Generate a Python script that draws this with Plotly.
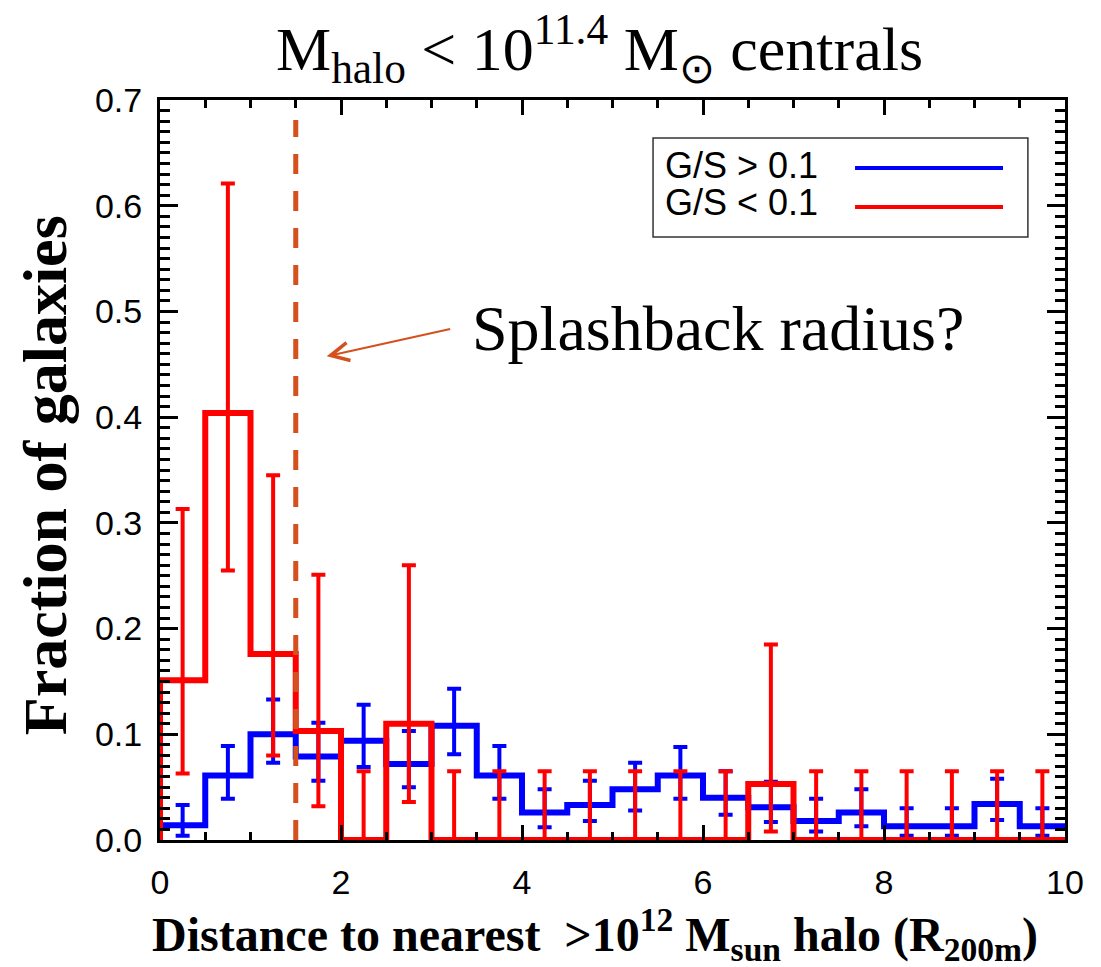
import plotly.graph_objects as go

# ---- data ----
bin_edges = [i * 0.5 for i in range(21)]
bin_centers = [0.25 + i * 0.5 for i in range(20)]

blue_frac = [0.014, 0.061, 0.100, 0.079, 0.094, 0.072, 0.108, 0.061, 0.026, 0.033,
             0.048, 0.061, 0.040, 0.031, 0.018, 0.026, 0.013, 0.013, 0.034, 0.013]
blue_lo = [0.004, 0.039, 0.073, 0.056, 0.069, 0.050, 0.081, 0.039, 0.012, 0.018,
           0.028, 0.039, 0.024, 0.017, 0.008, 0.013, 0.004, 0.004, 0.019, 0.004]
blue_hi = [0.033, 0.089, 0.133, 0.111, 0.128, 0.103, 0.143, 0.089, 0.048, 0.056,
           0.073, 0.088, 0.065, 0.055, 0.039, 0.048, 0.030, 0.030, 0.058, 0.030]

red_frac = [0.151, 0.404, 0.176, 0.103, 0.0, 0.110, 0.0, 0.0, 0.0, 0.0,
            0.0, 0.0, 0.0, 0.053, 0.0, 0.0, 0.0, 0.0, 0.0, 0.0]
red_lo = [0.063, 0.255, 0.080, 0.032, 0.0, 0.036, 0.0, 0.0, 0.0, 0.0,
          0.0, 0.0, 0.0, 0.008, 0.0, 0.0, 0.0, 0.0, 0.0, 0.0]
red_hi = [0.313, 0.621, 0.345, 0.251, 0.065, 0.260, 0.065, 0.065, 0.065, 0.065,
          0.065, 0.065, 0.065, 0.185, 0.065, 0.065, 0.065, 0.065, 0.065, 0.065]

series_names = ["G/S > 0.1", "G/S < 0.1"]
x_ticks = [0, 2, 4, 6, 8, 10]
y_ticks = [0.0, 0.1, 0.2, 0.3, 0.4, 0.5, 0.6, 0.7]
splashback_x = 1.5

BLUE = "#0000ff"
RED = "#ff0000"
ORANGE = "#d4501c"
SERIF = "Liberation Serif"
SANS = "Liberation Sans"


def step_xy(vals):
    xs = [bin_edges[0]] + list(bin_edges)
    ys = [0.0] + list(vals) + [vals[-1]]
    return xs, ys


fig = go.Figure()

for vals, lo, hi, col in [(blue_frac, blue_lo, blue_hi, BLUE), (red_frac, red_lo, red_hi, RED)]:
    xs, ys = step_xy(vals)
    fig.add_trace(go.Scatter(x=xs, y=ys, mode="lines", line=dict(color=col, width=6, shape="hv"),
                             showlegend=False, hoverinfo="skip", cliponaxis=True))
    fig.add_trace(go.Scatter(
        x=bin_centers, y=vals, mode="markers",
        marker=dict(size=1, color="rgba(0,0,0,0)"),
        error_y=dict(type="data", symmetric=False,
                     array=[h - v for h, v in zip(hi, vals)],
                     arrayminus=[v - l for v, l in zip(vals, lo)],
                     color=col, thickness=4, width=7),
        showlegend=False, hoverinfo="skip"))

# vertical dashed line (splashback)
fig.add_shape(type="line", xref="x", yref="y", x0=splashback_x, x1=splashback_x, y0=0, y1=0.681,
              line=dict(color=ORANGE, width=5, dash="20px,17px"), layer="above")

# arrow + text
fig.add_annotation(x=1.842, y=0.4575, ax=3.223, ay=0.4837, axref="x", ayref="y", xref="x", yref="y",
                   text="", showarrow=True, arrowhead=5, arrowsize=1.8, arrowwidth=2,
                   arrowcolor=ORANGE, standoff=0)
fig.add_annotation(x=3.43, y=0.484, xref="x", yref="y", text="Splashback radius?",
                   showarrow=False, xanchor="left", yanchor="middle",
                   font=dict(family=SERIF, size=64, color="black"))

# legend box
fig.add_shape(type="rect", xref="paper", yref="paper", x0=0.5448, x1=0.959, y0=0.8149, y1=0.9486,
              line=dict(color="#333333", width=1.5), fillcolor="white", layer="above")
for name, col, ly, ty in [(series_names[0], BLUE, 0.908, 0.912), (series_names[1], RED, 0.8554, 0.861)]:
    fig.add_shape(type="line", xref="paper", yref="paper", x0=0.768, x1=0.9315, y0=ly, y1=ly,
                  line=dict(color=col, width=4), layer="above")
    fig.add_annotation(x=0.556, y=ty, xref="paper", yref="paper", text=name, showarrow=False,
                       xanchor="left", yanchor="middle", font=dict(family=SANS, size=36, color="black"))

# titles
fig.add_annotation(x=0.486, y=1.07, xref="paper", yref="paper",
                   text="M<sub>halo</sub> &lt; 10<sup>11.4</sup> M<sub>⊙</sub> centrals",
                   showarrow=False, xanchor="center", yanchor="middle",
                   font=dict(family=SERIF, size=62, color="black"))
fig.add_annotation(x=0.4807, y=-0.176, xref="paper", yref="paper",
                   text="<b>Distance to nearest  &gt;10<sup>12</sup> M<sub>sun</sub> halo (R<sub>200m</sub>)</b>",
                   showarrow=False, xanchor="center", yanchor="bottom",
                   font=dict(family=SERIF, size=48, color="black"))
fig.add_annotation(x=-0.127, y=0.493, xref="paper", yref="paper",
                   text="<b>Fraction of galaxies</b>", textangle=-90,
                   showarrow=False, xanchor="center", yanchor="middle",
                   font=dict(family=SERIF, size=62, color="black"))

axis_common = dict(showgrid=False, zeroline=False, ticks="inside", mirror="ticks",
                   showline=True, linecolor="black", linewidth=3, tickwidth=3, tickcolor="black",
                   tickfont=dict(family=SANS, size=34, color="black"))

fig.update_layout(
    width=1101, height=967,
    margin=dict(l=160, r=36, t=100, b=127),
    plot_bgcolor="white", paper_bgcolor="white",
    showlegend=False,
    xaxis=dict(range=[0, 10], tickvals=x_ticks, ticktext=[str(v) for v in x_ticks], ticklen=15,
               minor=dict(dtick=0.5, ticklen=8, tickwidth=3, ticks="inside", tickcolor="black"),
               ticklabelstandoff=10, **axis_common),
    yaxis=dict(range=[0, 0.7], tickvals=y_ticks, ticktext=[f"{v:.1f}" for v in y_ticks], ticklen=18,
               minor=dict(dtick=0.01, ticklen=10, tickwidth=3, ticks="inside", tickcolor="black"),
               ticklabelstandoff=8, **axis_common),
)

fig.write_html("out.html")
